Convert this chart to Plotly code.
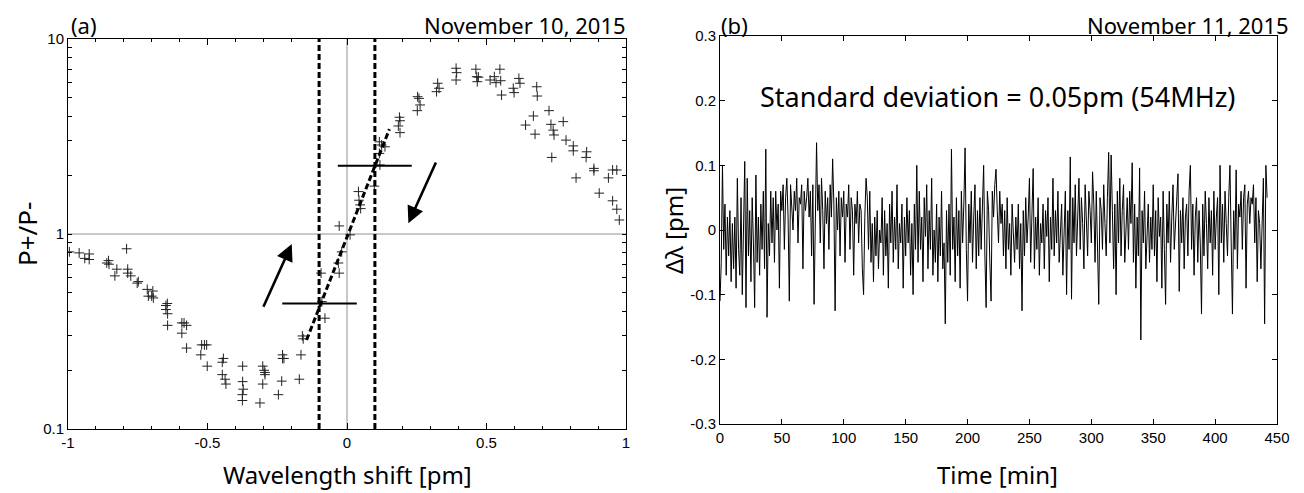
import numpy as np
import plotly.graph_objects as go

# ---------------- Panel (a) data ----------------
shift_pm = [-0.995, -0.96, -0.94, -0.924, -0.924, -0.861, -0.855, -0.853, -0.79, -0.825, -0.832,
            -0.786, -0.786, -0.775, -0.752, -0.748, -0.716, -0.712, -0.696, -0.694, -0.70,
            -0.649, -0.644, -0.649, -0.643, -0.643, -0.592, -0.584, -0.575, -0.592, -0.575,
            -0.521, -0.511, -0.503, -0.524, -0.501, -0.443, -0.447, -0.447, -0.437, -0.434,
            -0.374, -0.374, -0.372, -0.375, -0.375, -0.302, -0.297, -0.294, -0.294, -0.302, -0.312,
            -0.246, -0.234, -0.231, -0.226, -0.231, -0.171, -0.165, -0.16, -0.157,
            -0.093, -0.09, -0.079, -0.028, -0.019, -0.031, -0.028, 0.011,
            0.041, 0.043, 0.047, 0.049, 0.098, 0.118, 0.116, 0.124, 0.136, 0.116,
            0.188, 0.19, 0.184, 0.19, 0.253, 0.258, 0.262, 0.252, 0.325, 0.33, 0.321,
            0.391, 0.393, 0.391, 0.462, 0.465, 0.467, 0.471,
            0.513, 0.528, 0.534, 0.548, 0.551, 0.554, 0.596, 0.599, 0.616, 0.62,
            0.68, 0.682, 0.724, 0.668, 0.64, 0.674, 0.731, 0.739, 0.742, 0.775, 0.734,
            0.785, 0.811, 0.811, 0.821, 0.859, 0.857, 0.885, 0.885,
            0.904, 0.937, 0.952, 0.967, 0.952, 0.967, 0.976]
ratio = [0.81, 0.80, 0.75, 0.79, 0.74, 0.71, 0.73, 0.70, 0.84, 0.66, 0.61,
         0.66, 0.63, 0.61, 0.56, 0.57, 0.52, 0.48, 0.51, 0.47, 0.48,
         0.43, 0.44, 0.41, 0.39, 0.34, 0.35, 0.35, 0.34, 0.31, 0.26,
         0.27, 0.27, 0.27, 0.24, 0.21, 0.23, 0.22, 0.19, 0.18, 0.17,
         0.21, 0.175, 0.16, 0.15, 0.14, 0.21, 0.20, 0.195, 0.19, 0.17, 0.136,
         0.15, 0.176, 0.24, 0.23, 0.23, 0.18, 0.24, 0.30, 0.29,
         0.63, 0.45, 0.37, 1.10, 0.81, 0.71, 0.63, 0.99,
         1.65, 1.49, 1.41, 1.35, 1.76, 2.26, 2.97, 2.86, 2.80, 2.59,
         3.97, 3.81, 3.58, 3.31, 5.06, 4.96, 4.59, 4.29, 5.93, 5.59, 5.37,
         7.08, 6.72, 6.16, 7.0, 6.41, 6.04, 6.37,
         6.16, 6.41, 5.97, 7.0, 6.11, 5.16, 5.59, 5.31, 6.28, 5.93,
         5.69, 5.10, 4.29, 4.03, 3.62, 3.25, 3.65, 3.41, 3.22, 3.77, 2.47,
         3.03, 2.83, 2.67, 1.94, 2.64, 2.47, 2.17, 2.11,
         1.62, 1.94, 2.13, 2.13, 1.48, 1.34, 1.18]

lock_points = [-0.1, 0.1]          # dashed vertical lines
fit_x = [-0.145, 0.152]           # dashed slope line
fit_y = [0.286, 3.45]
bar_low_x = [-0.232, 0.035]
bar_low_y = [0.44, 0.44]
bar_high_x = [-0.033, 0.232]
bar_high_y = [2.24, 2.24]
arrow_up = [(-0.302, 0.416), (-0.198, 0.889)]     # tail, head
arrow_down = [(0.321, 2.37), (0.22, 1.135)]

# ---------------- Panel (b) data ----------------
dlambda = [
    -0.11, -0.05, 0.10, -0.03, 0.04, -0.07, 0.02, -0.04, 0.03, -0.08,
    0.01, -0.06, 0.02, -0.09, 0.08, -0.03, -0.07, 0.05, -0.10, 0.01,
    0.106, -0.12, 0.08, -0.04, 0.03, -0.08, 0.05, -0.02, -0.12, 0.085,
    -0.05, 0.02, -0.07, 0.04, -0.03, 0.06, -0.06, 0.125, -0.135, 0.01,
    -0.04, 0.06, -0.02, 0.05, -0.05, 0.06, 0.00, 0.04, -0.09, 0.06,
    0.03, 0.07, -0.03, 0.05, 0.08, 0.02, -0.11, 0.07, 0.04, 0.00,
    0.06, 0.03, 0.08, -0.02, 0.05, 0.04, 0.07, -0.06, 0.06, 0.03,
    0.05, 0.08, 0.02, 0.06, -0.04, 0.07, -0.115, 0.04, 0.135, 0.03,
    0.07, -0.02, 0.08, 0.03, -0.06, 0.06, 0.01, 0.05, -0.03, 0.07,
    0.02, 0.11, 0.04, -0.125, 0.05, 0.00, 0.06, -0.04, 0.05, 0.02,
    0.06, -0.05, 0.04, 0.02, 0.07, -0.03, 0.05, 0.03, -0.07, 0.04,
    0.01, 0.06, -0.02, 0.04, 0.03, -0.06, -0.10, 0.02, 0.08, 0.05,
    -0.03, 0.06, -0.05, 0.01, -0.08, 0.02, -0.04, 0.03, -0.06, 0.00,
    -0.02, 0.05, -0.07, 0.03, -0.04, 0.01, -0.09, 0.04, -0.02, 0.06,
    -0.05, 0.02, -0.03, 0.07, -0.06, 0.01, -0.02, 0.04, -0.09, 0.02,
    -0.04, 0.05, -0.02, 0.03, -0.07, 0.01, -0.10, 0.04, -0.03, 0.10,
    -0.05, 0.06, -0.03, 0.02, -0.08, 0.05, -0.01, 0.07, -0.06, 0.03,
    -0.03, 0.08, -0.07, 0.00, -0.05, 0.04, -0.08, 0.02, -0.04, 0.06,
    -0.06, -0.02, -0.145, 0.03, -0.05, 0.04, -0.07, 0.125, -0.03, 0.02,
    -0.08, 0.05, -0.04, 0.03, -0.09, 0.06, -0.02, 0.04, 0.127, -0.03,
    -0.11, 0.04, -0.02, 0.06, -0.05, 0.02, 0.07, -0.06, 0.03, -0.04,
    0.05, -0.03, 0.02, 0.10, -0.04, -0.12, 0.06, 0.03, -0.05, -0.11,
    0.06, 0.02, 0.07, 0.094, 0.03, -0.02, 0.06, 0.01, 0.04, -0.04,
    0.03, -0.06, 0.05, -0.03, 0.01, -0.07, 0.04, -0.02, -0.05, 0.02,
    -0.03, 0.04, -0.06, 0.01, -0.125, 0.03, -0.04, 0.05, -0.02, 0.02,
    0.08, -0.05, 0.03, 0.095, -0.06, 0.02, -0.03, 0.05, -0.07, 0.01,
    -0.02, 0.04, -0.06, 0.03, -0.01, 0.05, -0.08, 0.02, -0.03, 0.08,
    -0.04, 0.03, -0.02, 0.06, -0.05, 0.01, 0.04, -0.07, 0.02, 0.06,
    -0.10, 0.03, -0.03, 0.113, -0.107, 0.05, -0.02, 0.07, -0.04, 0.03,
    0.08, -0.03, 0.05, 0.01, -0.06, 0.07, 0.02, -0.04, 0.06, 0.03,
    -0.02, 0.09, 0.04, -0.05, 0.06, -0.01, -0.115, 0.05, 0.03, -0.03,
    0.07, 0.01, -0.04, 0.05, 0.12, -0.02, 0.116, 0.03, -0.06, 0.04,
    -0.10, 0.06, -0.02, 0.08, -0.04, 0.03, 0.07, -0.05, 0.02, 0.05,
    -0.03, 0.06, 0.01, 0.104, -0.05, 0.04, -0.09, 0.02, -0.04, 0.096,
    -0.17, 0.03, -0.02, 0.06, -0.06, 0.01, 0.04, -0.05, 0.02, -0.03,
    0.07, -0.04, 0.03, -0.08, 0.05, -0.01, 0.02, -0.09, 0.06, -0.03,
    -0.115, 0.04, -0.02, 0.06, -0.05, 0.02, 0.07, -0.03, 0.01, 0.05,
    0.087, -0.095, 0.03, -0.02, 0.05, -0.06, 0.02, 0.04, -0.04, 0.06,
    0.10, -0.03, 0.04, -0.07, 0.02, 0.05, -0.05, 0.03, -0.02, -0.13,
    0.04, -0.04, 0.06, 0.01, -0.06, 0.05, -0.02, 0.03, -0.07, 0.06,
    -0.03, 0.02, 0.05, -0.10, 0.10, -0.02, 0.04, -0.05, 0.06, 0.01,
    -0.04, 0.05, 0.10, -0.02, -0.13, 0.03, -0.03, 0.093, -0.06, 0.04,
    0.02, 0.06, -0.03, 0.05, 0.07, -0.09, 0.04, 0.06, 0.01, 0.05,
    0.04, 0.07, -0.02, 0.05, -0.08, 0.03, 0.01, -0.06, 0.04, 0.08,
    -0.145, 0.10, 0.05]
sample_interval_min = 1.0
time_min = [i * sample_interval_min for i in range(len(dlambda))]

# ---------------- Figure ----------------
# the page body adds an 8 px margin, so the figure is drawn 8 px smaller and
# positions below are given in page pixels, shifted back by that margin.
PAGE_OFF = 8
W, H = 1304 - PAGE_OFF, 493 - PAGE_OFF
def fx(px): return (px - PAGE_OFF) / W
def fy(py): return 1 - (py - PAGE_OFF) / H

TICKFONT = dict(family="Liberation Sans, Arial, sans-serif", size=15, color="black")
TITLEFONT = dict(family="Noto Sans, DejaVu Sans, sans-serif", size=24, color="black")
GRAY = "#c8c8c8"

fig = go.Figure()

# panel (a)
fig.add_trace(go.Scatter(x=shift_pm, y=ratio, mode="markers", xaxis="x", yaxis="y",
                         marker=dict(symbol="cross-thin", size=7,
                                     line=dict(width=1, color="#222222")),
                         showlegend=False))
fig.add_trace(go.Scatter(x=fit_x, y=fit_y, mode="lines", xaxis="x", yaxis="y",
                         line=dict(color="black", width=3, dash="6px,3px"), showlegend=False))
for bx, by in [(bar_low_x, bar_low_y), (bar_high_x, bar_high_y)]:
    fig.add_trace(go.Scatter(x=bx, y=by, mode="lines", xaxis="x", yaxis="y",
                             line=dict(color="black", width=2), showlegend=False))

# panel (b)
fig.add_trace(go.Scatter(x=time_min, y=dlambda, mode="lines", xaxis="x2", yaxis="y2",
                         line=dict(color="black", width=1), showlegend=False))

shapes = []
# gray reference lines
shapes.append(dict(type="line", xref="x", yref="y domain", x0=0, x1=0, y0=0, y1=1,
                   line=dict(color=GRAY, width=2), layer="below"))
shapes.append(dict(type="line", xref="x domain", yref="y", x0=0, x1=1, y0=1, y1=1,
                   line=dict(color=GRAY, width=2), layer="below"))
for lp in lock_points:
    shapes.append(dict(type="line", xref="x", yref="y domain", x0=lp, x1=lp, y0=0, y1=1,
                       line=dict(color="black", width=3, dash="6px,3px")))

annotations = []
for (tx, ty), (hx, hy) in [arrow_up, arrow_down]:
    annotations.append(dict(x=hx, y=np.log10(hy), ax=tx, ay=np.log10(ty),
                            xref="x", yref="y", axref="x", ayref="y",
                            showarrow=True, arrowhead=2, arrowsize=1.3, arrowwidth=2.6,
                            arrowcolor="black", text=""))

def txt(text, x, y, xanchor="center", yanchor="middle", size=24, angle=0):
    f = dict(TITLEFONT)
    f["size"] = size
    annotations.append(dict(text=text, x=fx(x), y=fy(y), xref="paper", yref="paper",
                            xanchor=xanchor, yanchor=yanchor, showarrow=False,
                            textangle=angle, font=f, borderpad=0))

txt("(a)", 70, 25, xanchor="left", size=22)
txt("November 10, 2015", 627, 25, xanchor="right", size=22)
txt("(b)", 720, 25, xanchor="left", size=22)
txt("November 11, 2015", 1290, 25, xanchor="right", size=22)
txt("Wavelength shift [pm]", 347, 474)
txt("P+/P-", 27, 234, angle=-90, size=26)
txt("Time [min]", 998, 474)
txt("Δλ [pm]", 674, 230, angle=-90)
txt("Standard deviation = 0.05pm (54MHz)", 998, 96, size=27)

log_ticks = [v * 10 ** e for e in (-1, 0) for v in range(1, 10)] + [10]
log_text = ["0.1" if v == 0.1 else "1" if v == 1 else "10" if v == 10 else "" for v in log_ticks]

axis_common = dict(showline=True, linecolor="black", linewidth=1, mirror="ticks",
                   ticks="inside", tickcolor="black", showgrid=False, zeroline=False,
                   automargin=False, tickfont=TICKFONT)

fig.update_layout(
    template="none",
    width=W, height=H, margin=dict(l=0, r=0, t=0, b=0, autoexpand=False),
    paper_bgcolor="white", plot_bgcolor="white",
    xaxis=dict(domain=[fx(68), fx(626)], range=[-1, 1], anchor="y",
               tickvals=[-1, -0.5, 0, 0.5, 1], ticktext=["-1", "-0.5", "0", "0.5", "1"],
               ticklen=6, minor=dict(dtick=0.1, tick0=0, ticks="inside", ticklen=3,
                                     tickcolor="black"),
               **axis_common),
    yaxis=dict(domain=[fy(429), fy(39)], type="log", range=[-1, 1], anchor="x",
               tickvals=log_ticks, ticktext=log_text, ticklen=4, **axis_common),
    xaxis2=dict(domain=[fx(720), fx(1277)], range=[0, 450], anchor="y2",
                tickvals=list(range(0, 451, 50)), ticklen=5, **axis_common),
    yaxis2=dict(domain=[fy(424), fy(36)], range=[-0.3, 0.3], anchor="x2",
                tickvals=[-0.3, -0.2, -0.1, 0, 0.1, 0.2, 0.3],
                ticktext=["-0.3", "-0.2", "-0.1", "0", "0.1", "0.2", "0.3"],
                ticklen=5, **axis_common),
    shapes=shapes, annotations=annotations,
)

fig.write_html("out.html")
